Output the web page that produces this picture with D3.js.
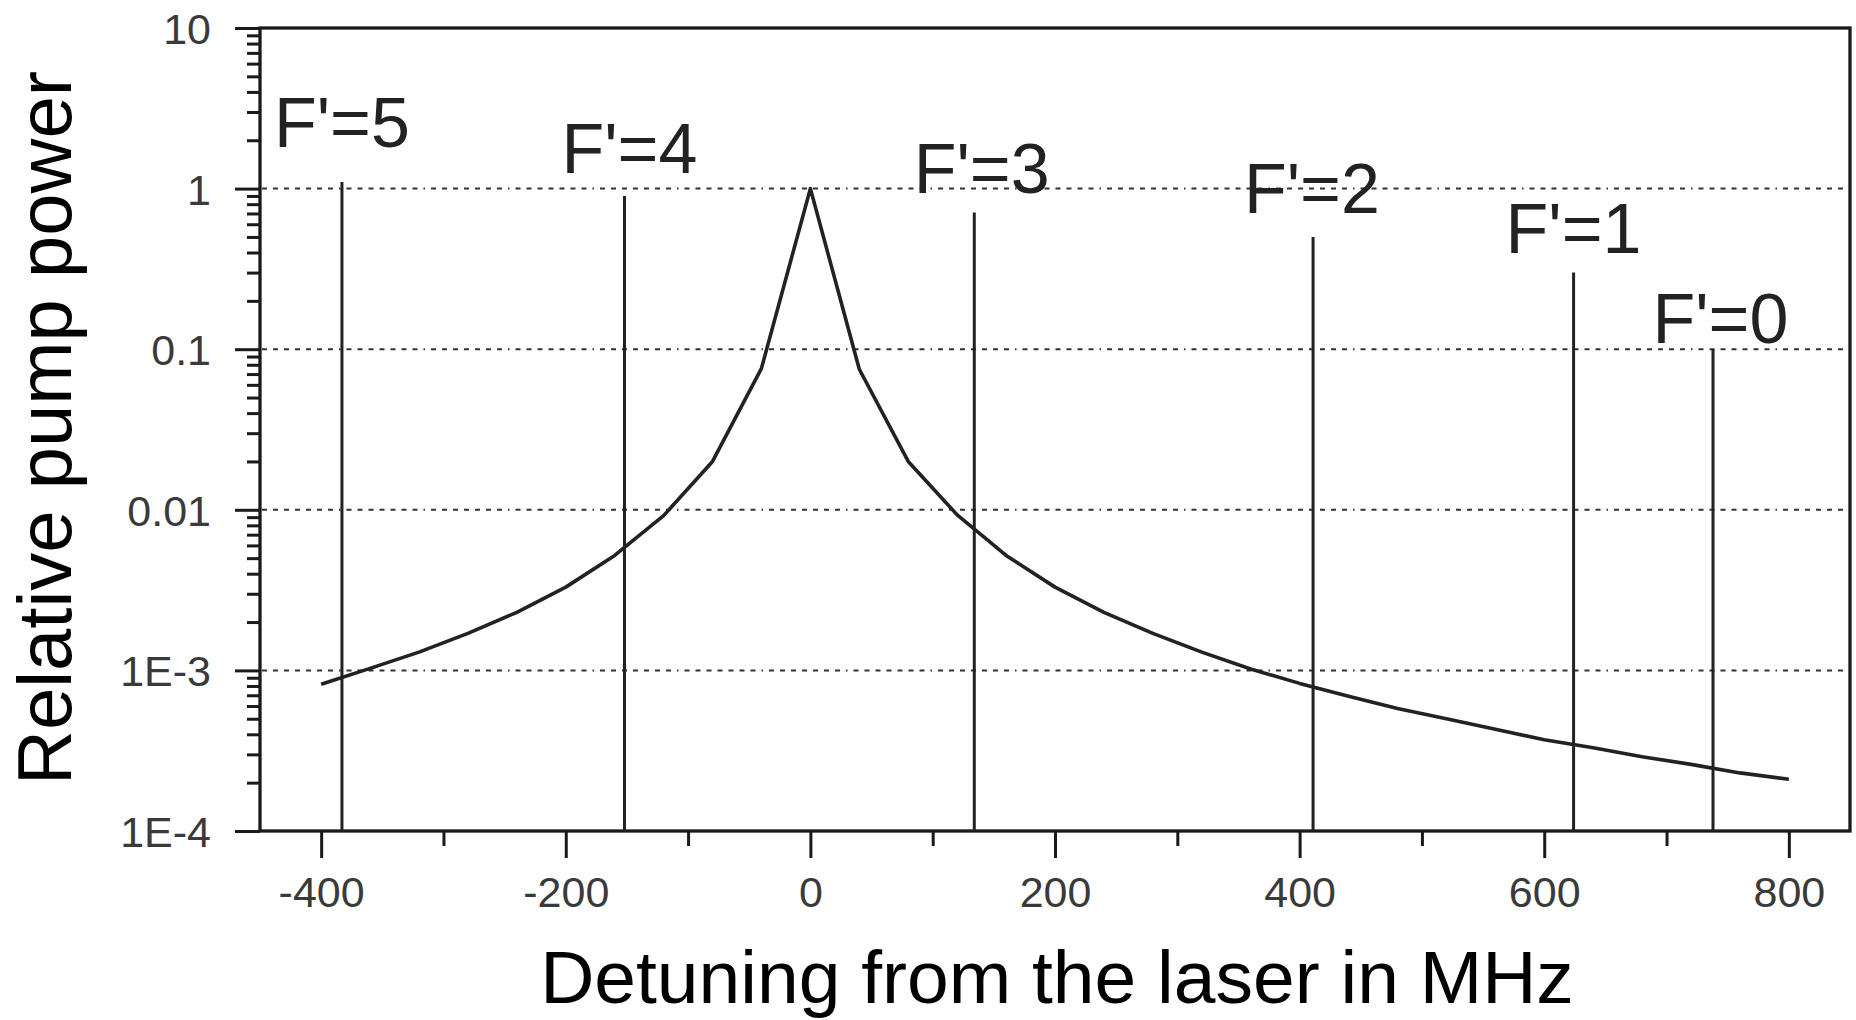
<!DOCTYPE html>
<html>
<head>
<meta charset="utf-8">
<script src="https://cdn.jsdelivr.net/npm/d3@7"></script>
<style>
  html, body { margin: 0; padding: 0; background: #fff; }
  svg { display: block; }
</style>
</head>
<body>
<div id="chart"></div>
<script>
// pump line profile
const detuning = [-400, -360, -320, -280, -240, -200, -160, -120, -80, -40, 0,
    40, 80, 120, 160, 200, 240, 280, 320, 360, 400, 440, 480, 520, 560, 600,
    640, 680, 720, 760, 800];
const pumpPower = [8.2e-4, 1.03e-3, 1.3e-3, 1.7e-3, 2.3e-3, 3.3e-3, 5.2e-3, 9.2e-3, 0.020, 0.076, 1,
    0.075, 0.020, 9.3e-3, 5.2e-3, 3.3e-3, 2.3e-3, 1.7e-3, 1.3e-3, 1.02e-3, 8.3e-4, 6.9e-4,
    5.8e-4, 5.0e-4, 4.3e-4, 3.7e-4, 3.3e-4, 2.9e-4, 2.6e-4, 2.3e-4, 2.1e-4];

// hyperfine components
const levelNames = ["F'=5", "F'=4", "F'=3", "F'=2", "F'=1", "F'=0"];
const levelFreq = [-383, -152, 134, 411, 624, 738];
const levelStrength = [1.1, 0.9, 0.71, 0.5, 0.3, 0.1];
// where each label sits (detuning, power)
const levelLabelFreq = [-383, -148, 140, 410, 624, 744];
const levelLabelAt = [1.82, 1.25, 0.94, 0.70, 0.40, 0.109];

const xMajor = [-400, -200, 0, 200, 400, 600, 800];
const xMinor = [-300, -100, 100, 300, 500, 700];
const yMajor = [1e-4, 1e-3, 0.01, 0.1, 1, 10];
const yLabels = ["1E-4", "1E-3", "0.01", "0.1", "1", "10"];

const width = 1856, height = 1020;
const plotL = 260, plotR = 1850, plotT = 28, plotB = 831;

const svg = d3.select("#chart").append("svg")
    .attr("width", width)
    .attr("height", height)
    .attr("font-family", "'Liberation Sans', Arial, sans-serif");

const x = d3.scaleLinear().domain([-450, 850]).range([plotL, plotR]);
const y = d3.scaleLog().domain([1e-4, 10]).range([plotB, plotT]);

const yMinor = [];
yMajor.slice(0, -1).forEach(d => {
    for (let k = 2; k <= 9; k++) yMinor.push(d * k);
});

// dotted grid
svg.append("g")
    .selectAll("line")
    .data(yMajor.slice(1, -1))
    .join("line")
    .attr("x1", plotL + 2).attr("x2", plotR - 2)
    .attr("y1", d => y(d)).attr("y2", d => y(d))
    .attr("stroke", "#333")
    .attr("stroke-width", 2)
    .attr("stroke-dasharray", "5,6,5,6,5,6,5,6,5,6,5,6,5,6,1.5,6");

// axes
const xAxis = svg.append("g")
    .attr("transform", `translate(0,${plotB})`)
    .call(d3.axisBottom(x).tickValues(xMajor).tickSize(27).tickPadding(20).tickFormat(d => String(d)));
svg.append("g")
    .attr("transform", `translate(0,${plotB})`)
    .call(d3.axisBottom(x).tickValues(xMinor).tickSize(15).tickFormat(""));

const yAxis = svg.append("g")
    .attr("transform", `translate(${plotL},0)`)
    .call(d3.axisLeft(y).tickValues(yMajor).tickSize(25).tickPadding(24).tickFormat((d, i) => yLabels[i]));
svg.append("g")
    .attr("transform", `translate(${plotL},0)`)
    .call(d3.axisLeft(y).tickValues(yMinor).tickSize(13).tickFormat(""));

svg.selectAll(".domain").remove();
svg.selectAll(".tick line").attr("stroke", "#1a1a1a").attr("stroke-width", 3);
svg.selectAll(".tick text")
    .attr("font-size", 43)
    .attr("fill", "#3a3a3a");
xAxis.selectAll(".tick text").attr("dy", "0.68em");
yAxis.selectAll(".tick text").attr("dy", "0.36em");

// frame
svg.append("rect")
    .attr("x", plotL).attr("y", plotT)
    .attr("width", plotR - plotL).attr("height", plotB - plotT)
    .attr("fill", "none")
    .attr("stroke", "#1a1a1a")
    .attr("stroke-width", 3.3);

// hyperfine lines
svg.append("g")
    .selectAll("line")
    .data(levelFreq)
    .join("line")
    .attr("x1", d => x(d)).attr("x2", d => x(d))
    .attr("y1", y(1e-4))
    .attr("y2", (d, i) => y(levelStrength[i]))
    .attr("stroke", "#222")
    .attr("stroke-width", 3);

svg.append("g")
    .selectAll("text")
    .data(levelNames)
    .join("text")
    .attr("x", (d, i) => x(levelLabelFreq[i]))
    .attr("y", (d, i) => y(levelLabelAt[i]))
    .attr("text-anchor", "middle")
    .attr("font-size", 70)
    .attr("fill", "#222")
    .text(d => d);

// pump profile
const line = d3.line()
    .x((d, i) => x(detuning[i]))
    .y(d => y(d));

svg.append("path")
    .datum(pumpPower)
    .attr("d", line)
    .attr("fill", "none")
    .attr("stroke", "#222")
    .attr("stroke-width", 3.6)
    .attr("stroke-linejoin", "round");

// titles
svg.append("text")
    .attr("x", 1057)
    .attr("y", 1003)
    .attr("text-anchor", "middle")
    .attr("font-size", 75)
    .attr("fill", "#000")
    .text("Detuning from the laser in MHz");

svg.append("text")
    .attr("transform", "translate(71,428) rotate(-90)")
    .attr("text-anchor", "middle")
    .attr("font-size", 76)
    .attr("fill", "#000")
    .text("Relative pump power");
</script>
</body>
</html>
